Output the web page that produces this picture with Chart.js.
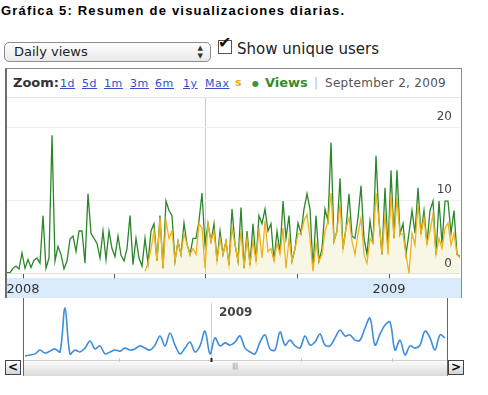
<!DOCTYPE html>
<html lang="es">
<head>
<meta charset="UTF-8">
<title>Gráfica 5: Resumen de visualizaciones diarias</title>
<style>
  body { margin:0; width:488px; height:395px; position:relative; overflow:hidden; background:#fff; font-family:"DejaVu Sans", sans-serif; color:#222; }
  .abs { position:absolute; white-space:nowrap; }
  .title { left:1px; top:3px; font:bold 13px "Liberation Sans", Arial, sans-serif; letter-spacing:1.2px; color:#000; }
  .select { left:4px; top:42px; width:207px; height:20px; box-sizing:border-box; border:1px solid #8c8c8c; border-radius:5px;
            background:linear-gradient(#ffffff, #e9e9e9); font-size:13px; line-height:18px; padding-left:9px; }
  .select .arrows { position:absolute; right:7px; top:1px; font-size:7px; line-height:8px; color:#333; }
  .check { left:218px; top:40px; width:12px; height:12px; border:1px solid #555; background:#fff; }
  .tick { left:218px; top:33px; font:bold 16px "DejaVu Sans"; color:#111; }
  .show { left:237px; top:40px; font-size:15px; color:#222; }
  .box { left:5px; top:68px; width:457px; height:230px; box-sizing:border-box; border:1px solid #8a8a8a; border-left:2px solid #6e6e6e; border-bottom:none; }
  .head { left:7px; top:69px; width:454px; height:29px; border-bottom:1px solid #e4e4e4; box-sizing:border-box; }
  .zoom { top:75px; font:bold 13px "DejaVu Sans"; color:#333; }
  .lnk { top:77px; font-size:11px; color:#3050d0; text-decoration:underline; letter-spacing:0.6px; }
  .band { left:7px; top:278px; width:454px; height:20px; background:#d9ebfa; }
  .nav { left:23px; top:298px; width:425px; height:78px; box-sizing:border-box; border-left:1px solid #666; border-right:1px solid #666; border-bottom:1px solid #888; background:#fff; }
  .track { left:24px; top:360px; width:423px; height:15px; background:linear-gradient(#fbfbfb, #dadada); border-top:1px solid #d0d0d0; }
  .grip { left:232px; top:362px; font-size:7px; color:#999; letter-spacing:-1px; }
  .btn { top:360px; width:16px; height:15px; box-sizing:border-box; border:1px solid #444; background:linear-gradient(#ffffff, #d4d4d4);
         font:bold 12px "DejaVu Sans"; line-height:13px; text-align:center; color:#111; }
  canvas { position:absolute; }
</style>
</head>
<body>
<div class="abs title">Gráfica 5: Resumen de visualizaciones diarias.</div>

<div class="abs select">Daily views<span class="arrows">▲<br>▼</span></div>
<div class="abs check"></div>
<div class="abs tick">✔</div>
<div class="abs show">Show unique users</div>

<div class="abs box"></div>
<div class="abs head"></div>
<div class="abs zoom" style="left:13px">Zoom:</div>
<div class="abs lnk" style="left:60px">1d</div>
<div class="abs lnk" style="left:82px">5d</div>
<div class="abs lnk" style="left:104px">1m</div>
<div class="abs lnk" style="left:130px">3m</div>
<div class="abs lnk" style="left:155px">6m</div>
<div class="abs lnk" style="left:183px">1y</div>
<div class="abs lnk" style="left:205px">Max</div>
<div class="abs" style="left:235px; top:76px; font:bold 11px 'DejaVu Sans'; color:#e6aa1c">s</div>
<div class="abs" style="left:252px; top:79px; font-size:8px; color:#3a963a">●</div>
<div class="abs" style="left:265px; top:75px; font:bold 13px 'DejaVu Sans'; color:#3a8a2c">Views</div>
<div class="abs" style="left:314px; top:76px; font-size:12px; color:#bbb">|</div>
<div class="abs" style="left:325px; top:76px; font-size:12px; color:#555; letter-spacing:0.3px">September 2, 2009</div>
<div class="abs band"></div>

<div class="abs nav"></div>
<div class="abs track"></div>
<div class="abs grip">||||</div>
<div class="abs btn" style="left:5px">&lt;</div>
<div class="abs btn" style="left:448px">&gt;</div>

<canvas id="main" width="476" height="222" style="left:0; top:78px"></canvas>
<canvas id="overview" width="470" height="81" style="left:0; top:297px"></canvas>

<script src="https://cdn.jsdelivr.net/npm/chart.js@4.4.1/dist/chart.umd.min.js"></script>
<script>
    // main chart: one value every 3 days, day 0 = Jan 1 2008
    var startDay = -16;
    var stepDays = 3;
    var views = [
        0.1, 0.1, 0.7, 1.0, 0.6, 2.8, 0.7, 1.9, 0.8, 1.8,
        2.1, 1.4, 7.9, 0.7, 2.1, 18.9, 1.7, 3.7, 2.6, 0.6,
        1.7, 4.7, 5.1, 3.0, 5.8, 5.8, 1.4, 10.9, 5.5, 4.8,
        4.1, 2.1, 5.8, 1.9, 5.8, 3.4, 2.3, 5.1, 2.5, 1.7,
        3.4, 7.9, 1.2, 4.8, 2.1, 1.0, 4.8, 1.4, 5.8, 6.8,
        1.7, 7.9, 0.7, 9.9, 8.6, 7.9, 1.7, 4.4, 2.6, 6.9,
        4.0, 2.6, 4.8, 4.8, 7.2, 11.0, 4.0, 6.8, 4.4, 6.8,
        1.7, 5.8, 2.6, 4.4, 1.2, 8.8, 4.0, 1.7, 9.0, 0.7,
        5.8, 1.2, 6.8, 1.7, 7.9, 6.8, 8.8, 5.8, 6.8, 1.7,
        5.8, 2.8, 9.9, 4.8, 7.9, 1.7, 3.4, 6.9, 5.5, 8.8,
        10.9, 8.8, 0.7, 7.9, 1.7, 3.4, 8.8, 7.2, 17.9, 4.4,
        5.8, 13.0, 3.4, 6.2, 10.9, 5.1, 4.8, 7.6, 12.0, 4.8,
        2.6, 7.2, 4.1, 16.1, 7.2, 2.6, 11.7, 3.4, 14.1, 4.8,
        14.1, 5.4, 6.8, 2.6, 5.5, 8.6, 5.5, 11.7, 5.4, 8.6,
        4.0, 8.6, 9.9, 2.6, 9.9, 4.1, 9.9, 9.9, 5.5, 8.6,
        2.6, 2.3
    ];
    // unique users are only reported from the 47th value on
    var uniquesFrom = 46;
    var uniques = [
        0.3, 1.4, 3.4, 5.8, 1.7, 7.6, 0.7, 7.2, 4.8, 5.8,
        1.7, 4.4, 2.6, 5.4, 4.0, 2.6, 3.4, 2.6, 6.8, 6.2,
        0.7, 6.8, 4.4, 5.8, 1.7, 4.8, 2.6, 4.4, 1.2, 6.2,
        4.0, 1.7, 5.8, 0.7, 4.8, 1.2, 4.4, 1.7, 6.2, 2.1,
        7.2, 3.0, 3.4, 1.7, 4.1, 2.6, 6.2, 0.7, 4.8, 1.7,
        3.4, 5.4, 5.5, 7.2, 8.1, 4.8, 0.3, 4.1, 1.7, 2.6,
        5.8, 7.2, 11.0, 4.4, 5.8, 9.5, 3.4, 6.2, 7.6, 4.4,
        2.6, 5.4, 7.6, 2.6, 1.4, 4.8, 4.1, 11.0, 7.2, 2.6,
        8.1, 2.6, 10.9, 4.8, 10.3, 5.4, 5.4, 2.6, 0, 5.5,
        3.9, 9.5, 5.4, 7.6, 4.0, 5.8, 8.1, 2.6, 4.8, 3.4,
        6.2, 6.9, 3.9, 5.5, 2.6, 2.1
    ];
    var quarterDays = [0, 91, 182, 274, 366];
    var quarterLabels = ['2008', '', '', '', '2009'];
    var cursorDay = 182;

    // overview strip: one value every 5 days, day 0 = Jan 1 2009
    var overviewStart = -186;
    var overviewStep = 5;
    var overview = [
        0.7, 1.1, 1.5, 2.9, 1.8, 2.5, 3.3, 2.2, 18.2, 1.5,
        2.9, 2.2, 3.6, 6.2, 3.3, 4.4, 1.5, 2.2, 2.9, 2.5,
        3.6, 2.9, 3.3, 4.4, 3.6, 2.9, 4.7, 8.0, 4.4, 9.1,
        4.7, 1.5, 3.6, 5.8, 2.2, 4.4, 9.8, 1.5, 7.3, 4.4,
        5.5, 4.7, 5.8, 8.0, 3.6, 2.2, 1.5, 5.8, 8.4, 3.3,
        2.9, 9.5, 4.7, 6.5, 4.4, 3.6, 8.0, 4.7, 5.8, 8.7,
        4.7, 4.4, 7.3, 10.2, 8.0, 8.4, 6.5, 6.5, 10.9, 14.5,
        4.7, 8.7, 12.0, 13.1, 2.9, 6.5, 1.1, 4.4, 3.6, 4.7,
        9.8, 7.3, 2.9, 8.4, 7.3
    ];
    var overviewTicks = [-92, 0, 90, 181];
    var overviewLabels = ['', '2009', '', ''];

    function toPoints(values, first, step, offset) {
        return values.map(function(v, i) {
            return { x: first + step * (i + offset), y: v };
        });
    }

    var lastDay = startDay + stepDays * (views.length - 1);
    var overviewEnd = overviewStart + overviewStep * (overview.length - 1);

    new Chart(document.getElementById('main'), {
        type: 'line',
        data: {
            datasets: [
                {
                    label: 'Unique users',
                    data: toPoints(uniques, startDay, stepDays, uniquesFrom),
                    borderColor: '#efb21c',
                    backgroundColor: '#f8f6e5',
                    fill: 'origin',
                    borderWidth: 1.3,
                    pointRadius: 0
                },
                {
                    label: 'Views',
                    data: toPoints(views, startDay, stepDays, 0),
                    borderColor: '#2c862a',
                    borderWidth: 1.3,
                    pointRadius: 0,
                    fill: false
                }
            ]
        },
        options: {
            responsive: false,
            animation: false,
            layout: { padding: { left: 7, right: 16, top: 20, bottom: 0 } },
            plugins: {
                legend: { display: false },
                tooltip: { enabled: false },
                // cream area goes under the grid and the axis labels
                filler: { drawTime: 'beforeDraw' }
            },
            scales: {
                x: {
                    type: 'linear',
                    min: startDay,
                    max: lastDay,
                    afterBuildTicks: function(scale) {
                        scale.ticks = quarterDays.map(function(d) { return { value: d }; });
                    },
                    ticks: {
                        autoSkip: false,
                        maxRotation: 0,
                        padding: 3,
                        color: '#333',
                        font: { family: 'DejaVu Sans', size: 13 },
                        callback: function(value, index) { return quarterLabels[index]; }
                    },
                    grid: {
                        color: function(ctx) {
                            return ctx.tick && ctx.tick.value === cursorDay ? '#cdcdcd' : 'rgba(0,0,0,0)';
                        },
                        tickColor: '#555',
                        tickLength: 5
                    },
                    border: { display: false }
                },
                y: {
                    position: 'right',
                    min: 0,
                    max: 24,
                    // labels sit inside the plot, right-aligned 8px from its edge
                    afterFit: function(scale) { scale.width = 0; },
                    ticks: {
                        stepSize: 10,
                        includeBounds: false,
                        mirror: true,
                        padding: -8,
                        labelOffset: -10,
                        color: '#444',
                        font: { family: 'DejaVu Sans', size: 12 }
                    },
                    grid: {
                        drawTicks: false,
                        color: function(ctx) {
                            return ctx.tick && ctx.tick.value === 0 ? '#e0e0e0' : '#efefef';
                        }
                    },
                    border: { display: false }
                }
            }
        }
    });

    new Chart(document.getElementById('overview'), {
        type: 'line',
        data: {
            datasets: [{
                label: 'Views',
                data: toPoints(overview, overviewStart, overviewStep, 0),
                borderColor: '#3d8ddd',
                borderWidth: 1.6,
                pointRadius: 0,
                tension: 0.35,
                xAxisID: 'x'
            }]
        },
        options: {
            responsive: false,
            animation: false,
            layout: { padding: { left: 25, right: 25, top: 0, bottom: 16 } },
            plugins: { legend: { display: false }, tooltip: { enabled: false } },
            scales: {
                x: {
                    type: 'linear',
                    position: 'bottom',
                    min: overviewStart,
                    max: overviewEnd,
                    afterBuildTicks: function(scale) {
                        scale.ticks = overviewTicks.map(function(d) { return { value: d }; });
                    },
                    ticks: { display: false },
                    grid: {
                        color: function(ctx) {
                            return ctx.tick && ctx.tick.value === 0 ? '#cfcfcf' : 'rgba(0,0,0,0)';
                        },
                        tickColor: function(ctx) {
                            return ctx.tick && ctx.tick.value === 0 ? '#222' : '#cccccc';
                        },
                        tickWidth: function(ctx) {
                            return ctx.tick && ctx.tick.value === 0 ? 2 : 1;
                        },
                        tickLength: 4
                    },
                    border: { display: false }
                },
                xt: {
                    type: 'linear',
                    position: 'top',
                    min: overviewStart,
                    max: overviewEnd,
                    afterBuildTicks: function(scale) {
                        scale.ticks = overviewTicks.map(function(d) { return { value: d }; });
                    },
                    ticks: {
                        autoSkip: false,
                        maxRotation: 0,
                        mirror: true,
                        align: 'start',
                        labelOffset: 8,
                        padding: 3,
                        color: '#444',
                        font: { family: 'DejaVu Sans', size: 12, weight: 'bold' },
                        callback: function(value, index) { return overviewLabels[index]; }
                    },
                    grid: { display: false, drawTicks: false },
                    border: { display: false }
                },
                y: { display: false, min: 0, max: 20 }
            }
        }
    });
</script>
</body>
</html>
